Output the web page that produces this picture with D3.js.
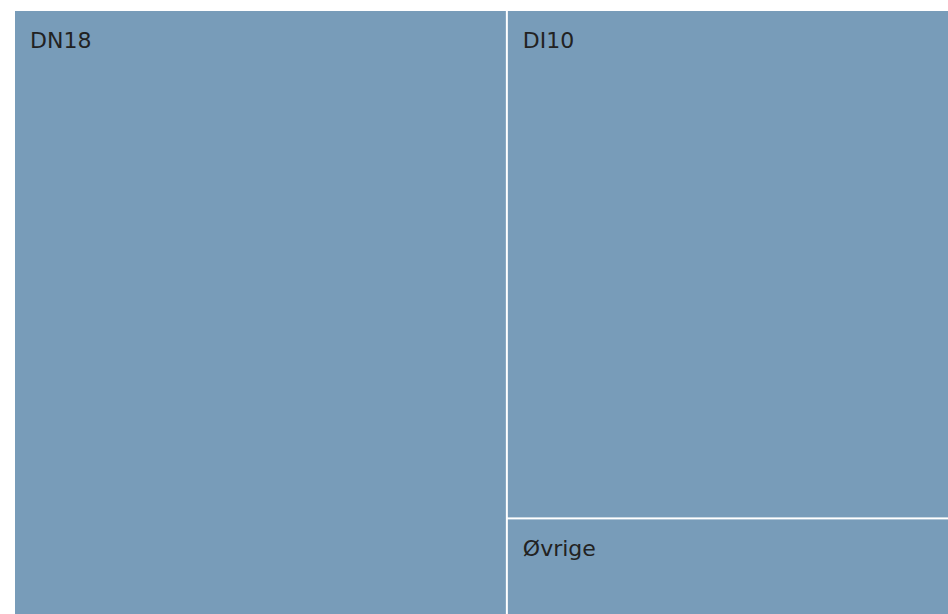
<!DOCTYPE html>
<html>
<head>
<meta charset="utf-8">
<script src="https://cdn.jsdelivr.net/npm/d3@7"></script>
<style>
  html, body { margin: 0; padding: 0; background: #fff; }
  svg { display: block; }
</style>
</head>
<body>
<svg id="chart" width="948" height="614"></svg>
<script>
// Share of each group (percent)
const categories = ["DN18", "DI10", "Øvrige"];
const values = [52.6, 39.7, 7.7];

const width = 948, height = 614;
const svg = d3.select("#chart");

const root = d3.hierarchy({
    name: "root",
    children: categories.map((c, i) => ({ name: c, value: values[i] }))
  })
  .sum(d => d.value || 0);

d3.treemap()
  .tile(d3.treemapSquarify)
  .size([935, 605])
  .paddingInner(2)
  .round(false)(root);

const g = svg.append("g").attr("transform", "translate(15,11)");

const cell = g.selectAll("g.cell")
  .data(root.leaves())
  .join("g")
  .attr("class", "cell")
  .attr("transform", d => `translate(${d.x0},${d.y0})`);

cell.append("rect")
  .attr("width", d => d.x1 - d.x0)
  .attr("height", d => d.y1 - d.y0)
  .attr("fill", "#789cb9");

cell.append("text")
  .attr("x", 15)
  .attr("y", 37)
  .attr("fill", "#222")
  .style("font-family", "Verdana, 'DejaVu Sans', sans-serif")
  .style("font-size", "22px")
  .text(d => d.data.name);
</script>
</body>
</html>
